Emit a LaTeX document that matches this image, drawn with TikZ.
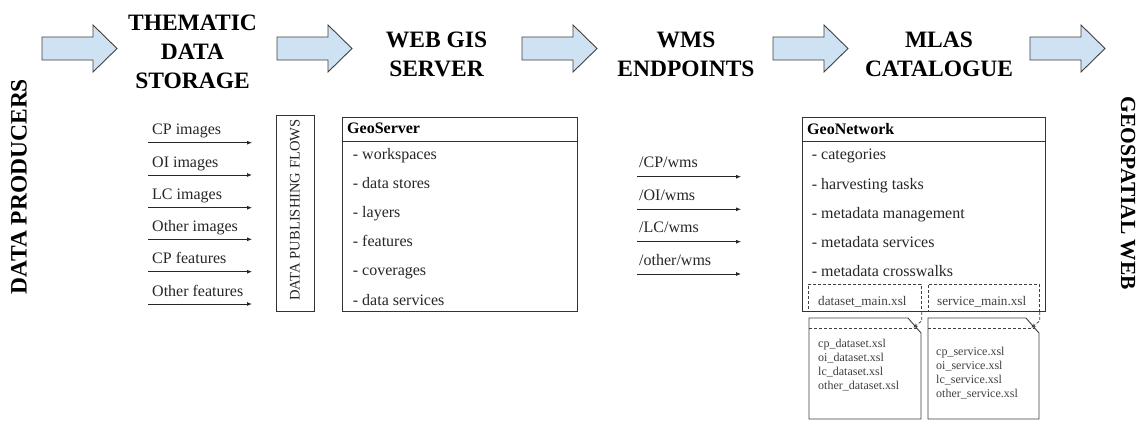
\documentclass[tikz,border=0pt]{standalone}
\usepackage{fontspec}
\setmainfont{Liberation Serif}
\usetikzlibrary{arrows.meta}
\definecolor{arrfill}{HTML}{CFE2F3}
\definecolor{txt}{HTML}{262626}
\definecolor{smalltxt}{HTML}{404040}
\begin{document}
\begin{tikzpicture}[x=1pt,y=-1pt,
  bigarr/.style={draw=black!75, fill=arrfill, line width=0.9pt, line join=miter},
  head/.style={font=\bfseries\fontsize{23.5}{29}\selectfont, align=center, text=black, inner sep=0},
  lbl/.style={font=\fontsize{16}{19}\selectfont, text=txt, anchor=base west, inner sep=0},
  hdr/.style={font=\bfseries\fontsize{16}{19}\selectfont, text=black, anchor=base west, inner sep=0},
  sml/.style={font=\fontsize{12}{14.2}\selectfont, text=smalltxt, anchor=base west, inner sep=0},
  mid/.style={font=\fontsize{13.2}{15}\selectfont, text=smalltxt, anchor=base west, inner sep=0},
  panel/.style={draw=black!80, line width=0.9pt, anchor=north west, inner sep=0},
  flow/.style={draw=black!85, line width=0.8pt, -{Latex[length=5pt,width=4pt]}},
  dbox/.style={draw=black!75, line width=0.8pt, dash pattern=on 3pt off 2pt, anchor=north west, inner sep=0},
  docline/.style={draw=black!75, line width=0.9pt, line join=miter},
  blockarrow/.pic={\path[bigarr] (0,-11.5) -- (51,-11.5) -- (51,-23.5) -- (75,0) -- (51,23.5) -- (51,11.5) -- (0,11.5) -- cycle;}
]
\useasboundingbox (0,0) rectangle (1141,421);

% block arrows
\pic at (42,48.5) {blockarrow};
\pic at (277,48.5) {blockarrow};
\pic at (522,48.5) {blockarrow};
\pic at (773,48.5) {blockarrow};
\pic at (1030,48.5) {blockarrow};

% headings
\node[head, anchor=north] (hTDS) at (192.5,15) {THEMATIC\\DATA\\STORAGE};
\node[head, anchor=north] (hWGS) at (436.5,31.5) {WEB GIS\\SERVER};
\node[head, anchor=north] (hWMS) at (686,31.5) {WMS\\ENDPOINTS};
\node[head, anchor=north] (hMLAS) at (939,32) {MLAS\\CATALOGUE};
\node[head, rotate=90] (hDP) at (19,186.5) {DATA PRODUCERS};
\node[head, rotate=-90, font=\bfseries\fontsize{21.5}{26}\selectfont] (hGW) at (1128,193.5) {GEOSPATIAL WEB};

% input flows
\foreach \i/\y/\t in {1/142.7/CP images, 2/175/OI images, 3/207.7/LC images, 4/239.3/Other images, 5/271.7/CP features, 6/304/Other features}{
  \node[lbl] (in\i) at (152,\y-8) {\t};
  \coordinate (ins\i) at (148,\y);
  \coordinate (ine\i) at (252,\y);
  \draw[flow] (ins\i) -- (ine\i);
}

% data publishing flows box
\node[panel, minimum width=38pt, minimum height=196pt] (dpf) at (276,115) {};
\node[font=\fontsize{14.6}{16}\selectfont, text=txt, rotate=90, inner sep=0] (dpft) at (295,210) {DATA PUBLISHING FLOWS};

% GeoServer
\node[panel, minimum width=235pt, minimum height=194pt] (gs) at (342,117) {};
\draw[draw=black!80, line width=0.9pt] ([yshift=-24pt]gs.north west) -- ([yshift=-24pt]gs.north east);
\node[hdr] (gsh) at (347,133.5) {GeoServer};
\foreach \i/\y/\t in {1/159/workspaces, 2/188/data stores, 3/217/layers, 4/246.5/features, 5/275.5/coverages, 6/305/data services}{
  \node[lbl] (gs\i) at (352.7,\y) {- \t};
}

% WMS endpoints
\foreach \i/\y/\t in {1/176.7/CP, 2/209.3/OI, 3/241.7/LC, 4/274/other}{
  \node[lbl] (w\i) at (639,\y-9) {/\t/wms};
  \coordinate (ws\i) at (637,\y);
  \coordinate (we\i) at (741,\y);
  \draw[flow] (ws\i) -- (we\i);
}

% GeoNetwork dashed boxes (behind)
\node[dbox, minimum width=113pt, minimum height=27pt] (dA) at (808,284) {};
\node[dbox, minimum width=111pt, minimum height=27pt] (dB) at (928,284) {};

% GeoNetwork
\node[panel, minimum width=243pt, minimum height=194pt] (gn) at (802,117) {};
\draw[draw=black!80, line width=0.9pt] ([yshift=-24pt]gn.north west) -- ([yshift=-24pt]gn.north east);
\node[hdr] (gnh) at (807,134) {GeoNetwork};
\foreach \i/\y/\t in {1/159.3/categories, 2/189.3/harvesting tasks, 3/218.3/metadata management, 4/247.3/metadata services, 5/276.7/metadata crosswalks}{
  \node[lbl] (gn\i) at (811.7,\y) {- \t};
}
\node[mid] (dAt) at (818,305) {dataset\_main.xsl};
\node[mid] (dBt) at (937,305) {service\_main.xsl};

% documents
\path[docline, fill=white] (809,318) -- (908,318) -- (921,333) -- (921,419) -- (809,419) -- cycle;
\draw[draw=black!75, line width=0.8pt, dash pattern=on 3pt off 2pt] (809,328) -- (917,328);
\path[docline, fill=white] (928,318) -- (1026,318) -- (1039,333) -- (1039,419) -- (928,419) -- cycle;
\draw[draw=black!75, line width=0.8pt, dash pattern=on 3pt off 2pt] (928,328) -- (1035,328);
\coordinate (fA) at (913.5,327.5);
\coordinate (fB) at (1031.5,327.5);
\draw[draw=black!75, line width=0.8pt, dash pattern=on 3pt off 2pt, -{Stealth[length=4pt,width=4pt]}] (dA.south east) -- ++(0,9) -- (fA);
\draw[draw=black!75, line width=0.8pt, dash pattern=on 3pt off 2pt, -{Stealth[length=4pt,width=4pt]}] (dB.south east) -- ++(0,9) -- (fB);

\foreach \i/\y/\t in {1/347/cp, 2/361.3/oi, 3/375.5/lc, 4/389.8/other}{
  \node[sml] (da\i) at (818,\y) {\t\_dataset.xsl};
}
\foreach \i/\y/\t in {1/355/cp, 2/369.3/oi, 3/383.5/lc, 4/397.8/other}{
  \node[sml] (sv\i) at (936,\y) {\t\_service.xsl};
}
\end{tikzpicture}
\end{document}
